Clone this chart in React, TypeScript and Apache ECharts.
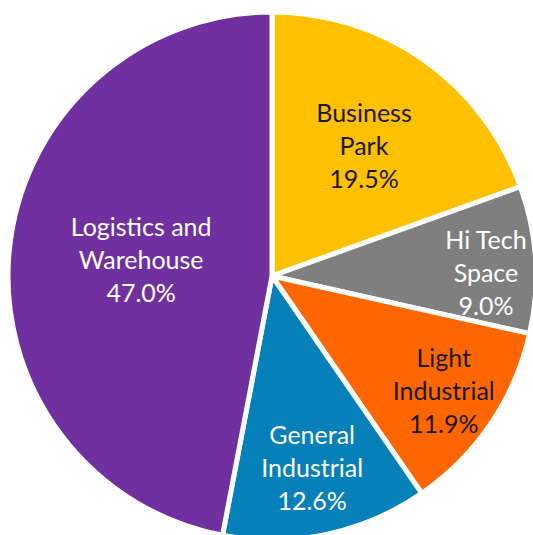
import React, { useEffect, useRef } from "react";
import * as echarts from "echarts";

const categories = ["Business Park", "Hi Tech Space", "Light Industrial", "General Industrial", "Logistics and Warehouse"];
const labelNames = ["Business\nPark", "Hi Tech\nSpace", "Light\nIndustrial", "General\nIndustrial", "Logistics and\nWarehouse"];
const shares = [19.5, 9.0, 11.9, 12.6, 47.0];

const colors = ["#FFC000", "#7F7F7F", "#FF6600", "#0580B9", "#7030A0"];
const textColors = ["#1a1a1a", "#ffffff", "#1a1a1a", "#ffffff", "#ffffff"];
const labelDist = [157, 211, 203, 192, 129];
const labelAngleShift = [0, -2.5, 0.5, 0, -2.2];

const CX = 272;
const CY = 276;

export default function App() {
  const ref = useRef<HTMLDivElement>(null);
  useEffect(() => {
    if (!ref.current) return;
    const chart = echarts.init(ref.current, null, { renderer: "svg" });
    const data = categories.map((c, i) => ({ name: c, value: shares[i] }));
    const labelSeries = categories.map((_, k) => ({
      type: "pie" as const,
      silent: true,
      center: [CX, CY],
      radius: [labelDist[k] - 1, labelDist[k] + 1],
      startAngle: 90 + labelAngleShift[k],
      clockwise: true,
      avoidLabelOverlap: false,
      minShowLabelAngle: 0,
      itemStyle: { color: "rgba(0,0,0,0)", borderWidth: 0 },
      labelLine: { show: false },
      emphasis: { disabled: true },
      data: categories.map((c, i) => ({
        name: c,
        value: shares[i],
        label: {
          show: i === k,
          position: "inside",
          color: textColors[i],
          fontFamily: "Lato",
          fontSize: 25,
          lineHeight: 33,
          align: "center",
          formatter: () => labelNames[i] + "\n" + shares[i].toFixed(1) + "%",
        },
      })),
      z: 5,
    }));
    chart.setOption({
      animation: false,
      backgroundColor: "#ffffff",
      series: [
        {
          type: "pie",
          center: [CX, CY],
          radius: [0, 264],
          startAngle: 90,
          clockwise: true,
          label: { show: false },
          labelLine: { show: false },
          emphasis: { disabled: true },
          itemStyle: { borderColor: "#ffffff", borderWidth: 5 },
          data: data.map((d, i) => ({ ...d, itemStyle: { color: colors[i] } })),
        },
        ...labelSeries,
      ],
    });
    return () => chart.dispose();
  }, []);
  return <div ref={ref} style={{ position: "absolute", left: 0, top: 0, width: 533, height: 535 }} />;
}
